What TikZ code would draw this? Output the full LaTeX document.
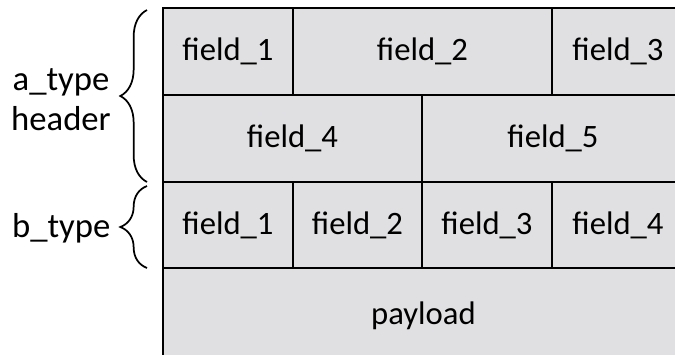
\documentclass[tikz,border=0pt]{standalone}
\usepackage{fontspec}
\setmainfont{Carlito}
\usetikzlibrary{decorations.pathreplacing,positioning}
\definecolor{cellgray}{RGB}{224,224,226}
\tikzset{
  pkt cell/.style={draw,fill=cellgray,line width=1.5pt,inner sep=0pt,minimum height=65.25pt,font=\fontsize{24.5}{28}\selectfont},
  pkt brace/.style={decorate,decoration={brace,amplitude=20pt},line width=1.3pt},
  side label/.style={font=\fontsize{26}{30}\selectfont,align=center,inner sep=0pt},
}

\begin{document}
\begin{tikzpicture}[x=0.75pt,y=-0.75pt]
  \useasboundingbox (0,0) rectangle (675,354);
  \clip (0,0) rectangle (675,354);
  % a_type header
  \node[pkt cell,minimum width=97.5pt] (a1) at (228,51.5) {field\_1};
  \node[pkt cell,minimum width=194.25pt] (a2) at (422.5,51.5) {field\_2};
  \node[pkt cell,minimum width=99pt] (a3) at (618,51.5) {field\_3};
  \node[pkt cell,minimum width=194.25pt] (a4) at (292.5,138.5) {field\_4};
  \node[pkt cell,minimum width=196.5pt] (a5) at (553,138.5) {field\_5};
  % b_type header
  \node[pkt cell,minimum width=97.5pt] (b1) at (228,225) {field\_1};
  \node[pkt cell,minimum width=96.75pt] (b2) at (357.5,225) {field\_2};
  \node[pkt cell,minimum width=97.5pt] (b3) at (487,225) {field\_3};
  \node[pkt cell,minimum width=99pt] (b4) at (618,225) {field\_4};
  \node[pkt cell,minimum width=390.75pt,minimum height=72pt] (pl) at (423.5,316) {payload};
  % braces
  \coordinate (abot) at (147,182);
  \coordinate (atop) at (147,10);
  \coordinate (atip) at (120,96);
  \coordinate (bbot) at (147,268);
  \coordinate (btop) at (147,186);
  \coordinate (btip) at (120,228);
  \draw[pkt brace] (abot) -- (atop);
  \draw[pkt brace] (bbot) -- (btop);
  \node[side label] (alabel) at (61,100) {a\_type\\header};
  \node[side label,left=7pt of btip] (blabel) {b\_type};
\end{tikzpicture}
\end{document}
